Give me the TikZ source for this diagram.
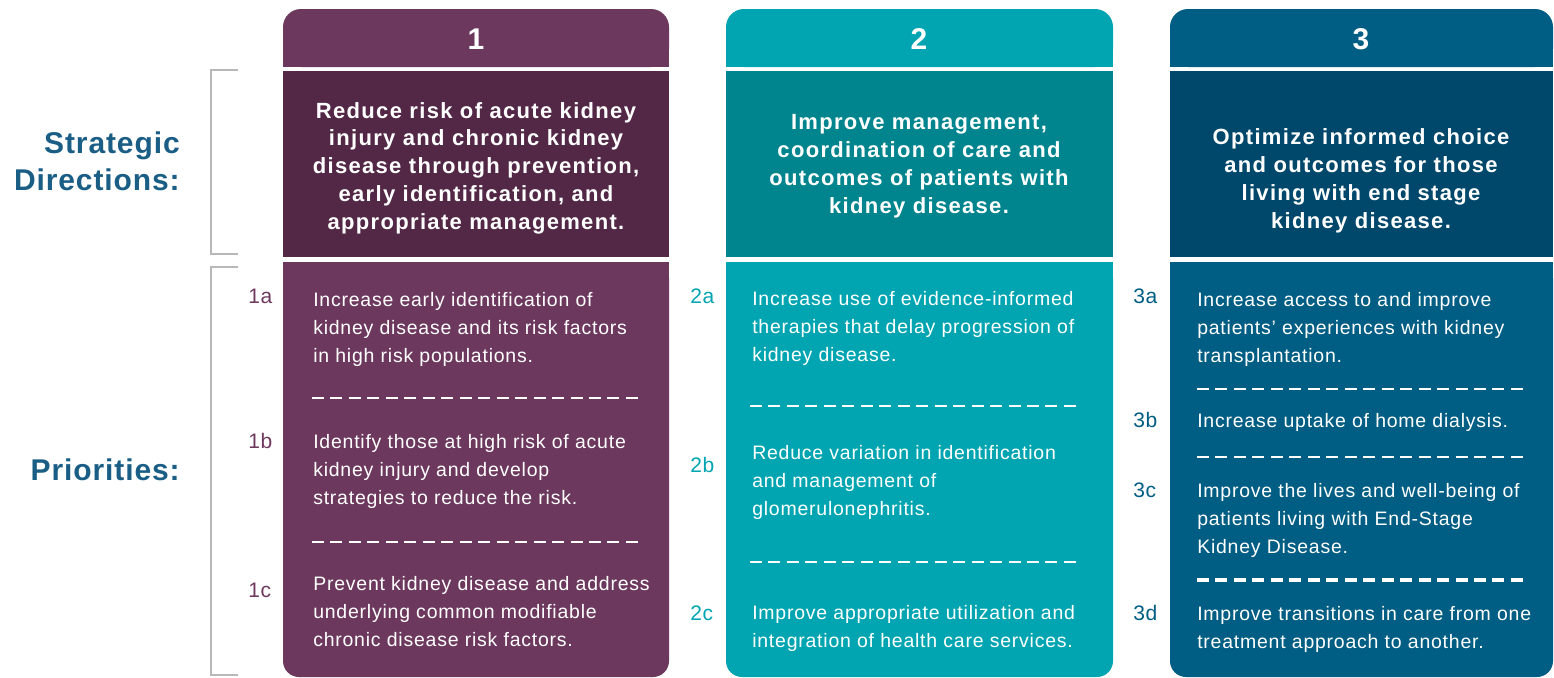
\documentclass[tikz,border=0pt]{standalone}
\usepackage{fontspec}
\setmainfont{Liberation Sans}
\newfontfamily\trackfont[LetterSpace=6]{Liberation Sans}
\newfontfamily\titlefont[LetterSpace=3]{Liberation Sans}
\newfontfamily\bodyfont[LetterSpace=4]{Liberation Sans}
\usepackage{tikz}
\usepackage{xcolor}

\definecolor{plumTop}{HTML}{6D385D}
\definecolor{plumDark}{HTML}{532846}
\definecolor{tealTop}{HTML}{00A5B1}
\definecolor{tealDark}{HTML}{00858E}
\definecolor{navyTop}{HTML}{005D83}
\definecolor{navyDark}{HTML}{00486B}
\definecolor{titleBlue}{HTML}{1A5E86}

% multi-line nodes: base = baseline of the last line
\tikzset{
  sdtext/.style={anchor=base, inner sep=0pt, align=center, text=white, font=\trackfont\bfseries\fontsize{16.5}{20.8}\selectfont},
  prio/.style={anchor=base west, inner sep=0pt, align=left, text=white, font=\bodyfont\fontsize{14.6}{21}\selectfont},
  tag/.style={anchor=base west, inner sep=0pt, font=\titlefont\fontsize{15.75}{15.75}\selectfont},
  numtext/.style={text=white, inner sep=0pt, font=\bfseries\fontsize{22.5}{22.5}\selectfont},
  cut/.style={white, line width=1.1pt, dash pattern=on 9pt off 4.85pt},
  brace/.style={black!28, line width=1.5pt},
  rowtitle/.style={anchor=base east, inner sep=0pt, align=right, text=titleBlue, font=\titlefont\bfseries\fontsize{22.5}{27.75}\selectfont},
}

\begin{document}
\begin{tikzpicture}[x=0.75pt,y=0.75pt,yscale=-1,xscale=1]
\path[use as bounding box] (0,0) rectangle (1554,678);

%Shape: Header 1
\fill[plumTop, rounded corners=13.5pt] (283,9) rectangle (669,67);
\fill[plumTop] (283,40) rectangle (669,67);
%Shape: Header 2
\fill[tealTop, rounded corners=13.5pt] (726,9) rectangle (1113,67);
\fill[tealTop] (726,40) rectangle (1113,67);
%Shape: Header 3
\fill[navyTop, rounded corners=13.5pt] (1170,9) rectangle (1553,67);
\fill[navyTop] (1170,40) rectangle (1553,67);

%Shape: Strategic direction boxes
\fill[plumDark] (283,71) rectangle (669,257);
\fill[tealDark] (726,71) rectangle (1113,257);
\fill[navyDark] (1170,71) rectangle (1553,257);

%Shape: Priority boxes
\fill[plumTop, rounded corners=12pt] (283,262) rectangle (669,677);
\fill[plumTop] (283,262) rectangle (669,300);
\fill[tealTop, rounded corners=12pt] (726,262) rectangle (1113,677);
\fill[tealTop] (726,262) rectangle (1113,300);
\fill[navyTop, rounded corners=12pt] (1170,262) rectangle (1553,677);
\fill[navyTop] (1170,262) rectangle (1553,300);

%Straight Lines: brackets
\draw[brace] (238,70) -- (211,70) -- (211,254) -- (238,254);
\draw[brace] (238,267) -- (211,267) -- (211,675) -- (238,675);

%Straight Lines: separators
\draw[cut] (312,398) -- (638,398);
\draw[cut] (312,542) -- (638,542);
\draw[cut] (750,406) -- (1077,406);
\draw[cut] (750,562) -- (1077,562);
\draw[cut] (1197,389) -- (1523,389);
\draw[cut] (1197,457) -- (1523,457);
\draw[cut, line width=2.4pt] (1197,580) -- (1523,580);

% Text Node
\draw (180,190) node (sdtitle) [rowtitle] {Strategic\\Directions:};
% Text Node
\draw (180,480) node (prtitle) [rowtitle] {Priorities:};

% Text Node
\draw (476,39) node (num1) [numtext] {1};
\draw (919,39) node (num2) [numtext] {2};
\draw (1361,39) node (num3) [numtext] {3};

% Text Node
\draw (476,229) node (sd1) [sdtext] {Reduce risk of acute kidney\\injury and chronic kidney\\disease through prevention,\\early identification, and\\appropriate management.};
\draw (919,213) node (sd2) [sdtext] {Improve management,\\coordination of care and\\outcomes of patients with\\kidney disease.};
\draw (1361,228) node (sd3) [sdtext] {Optimize informed choice\\and outcomes for those\\living with end stage\\kidney disease.};

% Text Node
\draw (248,303) node (t1a) [tag, text=plumTop] {1a};
\draw (248,448) node (t1b) [tag, text=plumTop] {1b};
\draw (248,597) node (t1c) [tag, text=plumTop] {1c};
\draw (690,303) node (t2a) [tag, text=tealTop] {2a};
\draw (690,472) node (t2b) [tag, text=tealTop] {2b};
\draw (690,620) node (t2c) [tag, text=tealTop] {2c};
\draw (1133,303) node (t3a) [tag, text=navyTop] {3a};
\draw (1133,427) node (t3b) [tag, text=navyTop] {3b};
\draw (1133,497) node (t3c) [tag, text=navyTop] {3c};
\draw (1133,620) node (t3d) [tag, text=navyTop] {3d};

% Text Node
\draw (313,362) node (p1a) [prio] {Increase early identification of\\kidney disease and its risk factors\\in high risk populations.};
\draw (313,504) node (p1b) [prio] {Identify those at high risk of acute\\kidney injury and develop\\strategies to reduce the risk.};
\draw (313,646) node (p1c) [prio] {Prevent kidney disease and address\\underlying common modifiable\\chronic disease risk factors.};
\draw (752,361) node (p2a) [prio] {Increase use of evidence-informed\\therapies that delay progression of\\kidney disease.};
\draw (752,515) node (p2b) [prio] {Reduce variation in identification\\and management of\\glomerulonephritis.};
\draw (752,647) node (p2c) [prio] {Improve appropriate utilization and\\integration of health care services.};
\draw (1197,362) node (p3a) [prio] {Increase access to and improve\\patients’ experiences with kidney\\transplantation.};
\draw (1197,427) node (p3b) [prio] {Increase uptake of home dialysis.};
\draw (1197,553) node (p3c) [prio] {Improve the lives and well-being of\\patients living with End-Stage\\Kidney Disease.};
\draw (1197,648) node (p3d) [prio] {Improve transitions in care from one\\treatment approach to another.};

\end{tikzpicture}
\end{document}
